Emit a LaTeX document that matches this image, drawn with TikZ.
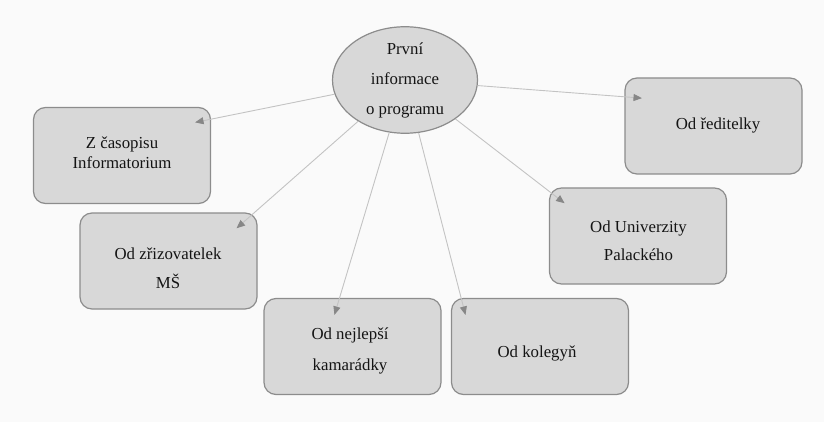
\documentclass[tikz,border=0pt]{standalone}
\usepackage{fontspec}
\setmainfont{Liberation Serif}
\usetikzlibrary{shapes.geometric,arrows.meta}
\definecolor{bgc}{RGB}{250,250,250}
\definecolor{boxfill}{RGB}{216,216,216}
\definecolor{boxline}{RGB}{140,140,140}
\definecolor{linec}{RGB}{195,195,195}
\definecolor{tipc}{RGB}{135,135,135}
\definecolor{txtc}{RGB}{20,20,20}
\tikzset{
  boxnode/.style={draw=boxline, line width=1.2pt, fill=boxfill, rounded corners=12pt,
    minimum width=177pt, minimum height=96pt, inner sep=0pt},
  txt/.style={align=center, text=txtc, inner sep=0pt, font=\fontsize{16.8}{29}\selectfont},
  conn/.style={draw=linec, line width=0.9pt, -{Triangle[length=8.5pt,width=7pt,color=tipc]}, shorten >=-2pt}
}
\begin{document}
\begin{tikzpicture}[x=1pt,y=-1pt]
\path[fill=bgc] (0,0) rectangle (824,422);
\useasboundingbox (0,0) rectangle (824,422);

\node[ellipse, draw=boxline, line width=1.2pt, fill=boxfill, minimum width=145pt, minimum height=106pt, inner sep=0pt,
  txt, font=\fontsize{16.8}{30}\selectfont] (e) at (405,80) {První\\informace\\o programu};

\node[boxnode] (b1) at (122,155.5) {};
\node[txt, font=\fontsize{16.8}{20}\selectfont] (t1) at (122,153) {Z časopisu\\Informatorium};

\node[boxnode] (b2) at (168.5,261) {};
\node[txt] (t2) at (168,268.5) {Od zřizovatelek\\MŠ};

\node[boxnode] (b3) at (352.5,346.5) {};
\node[txt, font=\fontsize{16.8}{31}\selectfont] (t3) at (350,350.5) {Od nejlepší\\kamarádky};

\node[boxnode] (b4) at (540,346.5) {};
\node[txt] (t4) at (537,353) {Od kolegyň};

\node[boxnode] (b5) at (713.5,126) {};
\node[txt] (t5) at (718,125) {Od ředitelky};

\node[boxnode] (b6) at (638,236) {};
\node[txt, font=\fontsize{16.8}{28}\selectfont] (t6) at (638.5,241) {Od Univerzity\\Palackého};

\coordinate (a1) at (197,122);
\coordinate (a2) at (238,227);
\coordinate (a3) at (335,313);
\coordinate (a4) at (465,313);
\coordinate (a5) at (640,98);
\coordinate (a6) at (563,202);

\draw[conn] (e) -- (a1);
\draw[conn] (e) -- (a2);
\draw[conn] (e) -- (a3);
\draw[conn] (e) -- (a4);
\draw[conn] (e) -- (a5);
\draw[conn] (e) -- (a6);
\end{tikzpicture}
\end{document}
